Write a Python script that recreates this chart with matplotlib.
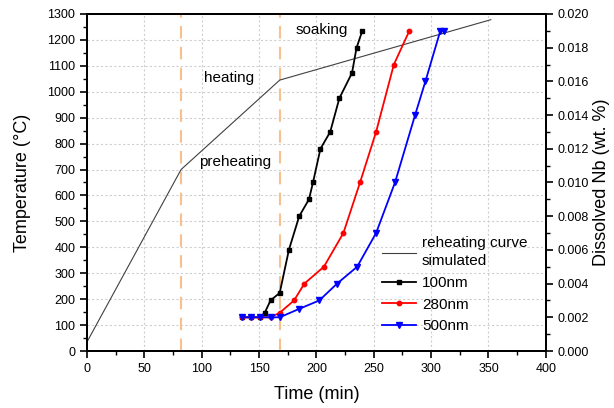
import matplotlib
matplotlib.use("Agg")
import matplotlib.pyplot as plt
from matplotlib.ticker import MultipleLocator, FormatStrFormatter

plt.rcParams['font.family'] = ['Liberation Sans', 'DejaVu Sans']

# Reheating curve (temperature, left axis)
heat_time = [0, 82, 168, 352]
heat_temp = [35, 700, 1045, 1278]

# Stage boundaries
stage_lines = [82, 168]

# Dissolved Nb (right axis)
t_100 = [135, 143, 151, 155, 160, 168, 176, 185, 193.5, 197, 203.5, 212, 220, 231, 235, 240]
nb_100 = [0.0020, 0.0020, 0.0020, 0.00228, 0.0030, 0.00345, 0.0060, 0.0080, 0.0090, 0.0100,
          0.0120, 0.0130, 0.0150, 0.0165, 0.0180, 0.0190]

t_280 = [135, 143, 151, 160, 168, 180.5, 189.5, 206.5, 223.5, 238, 252, 267.5, 281]
nb_280 = [0.0020, 0.0020, 0.0020, 0.0020, 0.00227, 0.0030, 0.0040, 0.0050, 0.0070, 0.0100,
          0.0130, 0.0170, 0.0190]

t_500 = [135, 143, 151, 160, 168, 185, 202.5, 218, 235.5, 252, 268.5, 286, 295, 308, 311]
nb_500 = [0.0020, 0.0020, 0.0020, 0.0020, 0.0020, 0.0025, 0.0030, 0.0040, 0.0050, 0.0070,
          0.0100, 0.0140, 0.0160, 0.0190, 0.0190]

fig = plt.figure(figsize=(6.14, 4.08), dpi=100)
ax = fig.add_axes([0.1417, 0.1397, 0.889 - 0.1417, 0.9657 - 0.1397])
ax2 = ax.twinx()

ax.set_xlim(0, 400)
ax.set_ylim(0, 1300)
ax2.set_ylim(0, 0.020)

ax.xaxis.set_major_locator(MultipleLocator(50))
ax.xaxis.set_minor_locator(MultipleLocator(25))
ax.yaxis.set_major_locator(MultipleLocator(100))
ax.yaxis.set_minor_locator(MultipleLocator(50))
ax2.yaxis.set_major_locator(MultipleLocator(0.002))
ax2.yaxis.set_minor_locator(MultipleLocator(0.001))
ax2.yaxis.set_major_formatter(FormatStrFormatter('%.3f'))

ax.grid(True, which='major', color='#cfcfcf', linestyle=(0, (2, 2)), linewidth=0.8)
ax.set_axisbelow(True)

for x in stage_lines:
    ax.axvline(x, color='#f7c08c', linestyle=(0, (6, 4)), linewidth=1.5, zorder=2)

h0, = ax.plot(heat_time, heat_temp, color='#404040', linewidth=0.8, zorder=3,
              label='reheating curve\nsimulated')

h1, = ax2.plot(t_100, nb_100, color='black', marker='s', markersize=3.5, linewidth=1.3, label='100nm')
h2, = ax2.plot(t_280, nb_280, color='red', marker='o', markersize=3.2, linewidth=1.3, label='280nm')
h3, = ax2.plot(t_500, nb_500, color='blue', marker='v', markersize=5, linewidth=1.3, label='500nm')

for a in (ax, ax2):
    for s in a.spines.values():
        s.set_linewidth(1.4)
ax.tick_params(which='major', direction='out', length=5, width=1.2, labelsize=9)
ax.tick_params(which='minor', direction='out', length=3, width=1.0)
ax2.tick_params(which='major', direction='out', length=5, width=1.2, labelsize=9)
ax2.tick_params(which='minor', direction='out', length=3, width=1.0)

ax.set_xlabel('Time (min)', fontsize=13, labelpad=8)
ax.set_ylabel('Temperature (°C)', fontsize=13, labelpad=12)
ax2.set_ylabel('Dissolved Nb (wt. %)', fontsize=13, labelpad=3)

ax.text(98, 730, 'preheating', fontsize=11, va='center', ha='left')
ax.text(102, 1055, 'heating', fontsize=11, va='center', ha='left')
ax.text(182, 1240, 'soaking', fontsize=11, va='center', ha='left')

leg = ax2.legend(handles=[h0, h1, h2, h3], loc='upper left',
                 bbox_to_anchor=(0.63, 0.358), frameon=False, fontsize=11,
                 handlelength=2.2, handletextpad=0.4, labelspacing=0.5, borderaxespad=0)
for t in leg.get_texts():
    t.set_linespacing(1.35)

fig.savefig('out.png', dpi=100)
